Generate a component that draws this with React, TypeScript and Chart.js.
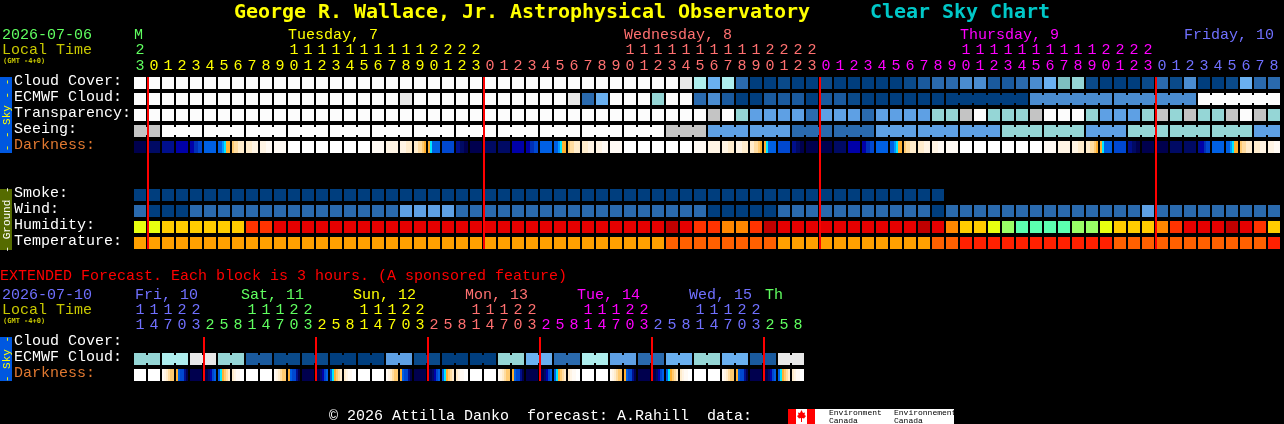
import React, { useEffect, useRef } from "react";
import { Chart, registerables } from "chart.js";

Chart.register(...registerables);

// ---------- data: levels ----------
const cloudCover = [
  12,12,12,12,12,12,12,12,12,12,12,12,12,12,12,12,12,12,12,12,12,12,12,12,12,12,12,12,12,12,12,12,12,12,12,12,12,12,12,
  10,9,6,9,3,0,0,1,0,0,1,0,0,0,0,0,1,2,3,3,4,4,2,2,3,4,6,7,8,1,0,0,0,1,3,1,4,0,0,1,6,3,3,
];
const ecmwfCloud = [
  12,12,12,12,12,12,12,12,12,12,12,12,12,12,12,12,12,12,12,10,12,12,12,12,12,12,12,12,12,12,12,10,
  3,6,12,12,12,8,12,12,3,4,2,0,0,2,2,2,0,2,2,1,0,0,0,0,0,0,0,0,0,0,0,0,4,4,4,4,4,4,4,4,4,4,4,4,12,12,12,12,12,12,
];
const ecmwfBlockStarts = [
  0,1,2,3,4,5,6,7,8,9,10,11,12,13,14,15,16,17,18,19,20,21,22,23,24,25,26,27,28,29,30,31,32,33,34,35,36,37,38,39,40,41,
  42,43,44,45,46,47,48,49,50,51,52,53,54,55,56,57,58,64,70,76,
];
const transparency = [
  12,12,12,12,12,12,12,12,12,12,12,12,12,12,12,12,12,12,12,12,12,12,12,12,12,12,12,12,12,12,12,12,12,12,12,12,12,12,12,12,12,
  11,12,8,5,5,5,5,3,5,5,5,3,5,5,5,5,8,8,11,12,8,8,8,11,12,12,12,8,5,5,5,8,11,8,11,8,8,11,12,11,8,
];
const seeing = [
  11,11,12,12,12,12,12,12,12,12,12,12,12,12,12,12,12,12,12,12,12,12,12,12,12,12,12,12,12,12,12,12,12,12,12,12,12,12,
  11,11,11,5,5,5,5,5,5,3,3,3,3,3,3,5,5,5,5,5,5,5,5,5,8,8,8,8,8,8,5,5,5,8,8,8,8,8,8,8,8,8,5,5,
];
const seeingBlockStarts = [0,2,5,8,11,14,17,20,23,26,29,32,35,38,41,44,47,50,53,56,59,62,65,68,71,74,77,80];
const darkness = [
  "000000","111111","222222","333333","334455","666666","667899","abbccc","cccddd","dddeee","eeeeee","ffffff",
  "ffffff","ffffff","ffffff","ffffff","ffffff","eeeeee","dddddd","dddccc","ccbba9","986666","555555","221100",
  "000000","111111","111111","333333","334455","666666","667899","abbccc","cccddd","dddeee","eeeeee","ffffff",
  "ffffff","ffffff","ffffff","ffffff","eeeeee","dddddd","dddccc","dddccc","ccbba9","986666","555555","221100",
  "000000","000000","111111","333333","334455","666666","667899","abbccc","cccddd","dddeee","eeeeee","ffffff",
  "ffffff","ffffff","ffffff","ffffff","ffffff","eeeeee","dddddd","dddccc","ccbba9","986666","555555","221100",
  "000000","000000","111111","111111","233455","666666","667899","abbccc","cccddd","dddeee",
];
const smoke = [
  0,0,0,0,0,0,0,0,0,0,0,0,0,0,0,0,0,0,0,0,0,0,0,0,0,0,0,0,0,0,0,0,0,0,0,0,0,0,0,0,0,0,0,0,0,0,0,0,0,0,0,0,0,0,0,0,0,0,
];
const wind = [
  3,0,0,0,3,3,3,3,3,3,3,3,3,3,3,3,3,3,3,5,5,5,5,3,3,3,3,3,3,3,3,3,3,3,3,3,3,3,3,3,3,
  0,0,0,0,0,3,3,3,3,3,3,3,3,3,3,3,0,3,3,3,3,3,3,3,3,3,3,3,3,3,3,5,3,3,3,3,3,3,3,3,3,
];
const humidity = [
  2,2,3,3,3,3,3,3,5,5,6,6,6,6,6,6,6,6,6,6,6,6,6,6,6,6,6,6,6,6,6,6,6,6,6,6,6,6,7,6,5,
  5,4,4,5,7,6,6,6,6,6,6,6,6,6,6,7,6,4,3,3,2,1,0,0,0,0,1,1,2,3,3,3,4,5,6,6,6,7,6,5,3,
];
const temperature = [
  0,0,0,0,0,0,0,0,0,0,0,0,0,0,0,0,0,0,0,0,0,0,0,0,0,0,0,0,0,0,0,0,0,0,0,0,0,0,1,1,1,
  1,1,1,1,1,0,0,0,0,0,0,0,0,0,0,0,1,1,2,2,2,2,2,2,2,2,2,2,2,1,1,1,1,1,1,1,1,1,1,1,2,
];
const extEcmwf = [
  8,8,9,9,10,10,8,8,2,2,1,1,1,1,0,0,0,0,5,5,1,1,0,0,0,0,8,8,6,6,3,3,9,9,5,5,3,3,6,6,8,8,6,6,2,2,10,10,
];
const extBlockStarts = [0,2,4,6,8,10,12,14,16,18,20,22,24,26,28,30,32,34,36,38,40,42,44,46];
const extDarkness = [
  "ffffff","ffffff","edcbaa","965520","000000","001356","689abc","cdeeff",
  "ffffff","ffffff","edcbaa","965520","000000","001356","689abc","cdeeff",
  "ffffff","ffffff","edcbaa","965520","000000","001356","689abc","cdeeff",
  "ffffff","ffffff","edcbaa","965520","000000","001356","689abc","cdeeff",
  "ffffff","ffffff","edcbaa","965520","000000","001356","689abc","cdeeff",
  "ffffff","ffffff","edcbaa","965520","000000","001356","689abc","cdeeff",
];
const topHours = [
  23,0,1,2,3,4,5,6,7,8,9,10,11,12,13,14,15,16,17,18,19,20,21,22,23,
  0,1,2,3,4,5,6,7,8,9,10,11,12,13,14,15,16,17,18,19,20,21,22,23,
  0,1,2,3,4,5,6,7,8,9,10,11,12,13,14,15,16,17,18,19,20,21,22,23,
  0,1,2,3,4,5,6,7,8,
];
const topHourDay = [
  0,1,1,1,1,1,1,1,1,1,1,1,1,1,1,1,1,1,1,1,1,1,1,1,1,
  2,2,2,2,2,2,2,2,2,2,2,2,2,2,2,2,2,2,2,2,2,2,2,2,
  3,3,3,3,3,3,3,3,3,3,3,3,3,3,3,3,3,3,3,3,3,3,3,3,
  4,4,4,4,4,4,4,4,4,
];
const extHours = [
  11,14,17,20,23,2,5,8,11,14,17,20,23,2,5,8,11,14,17,20,23,2,5,8,
  11,14,17,20,23,2,5,8,11,14,17,20,23,2,5,8,11,14,17,20,23,2,5,8,
];
const extHourDay = [
  4,4,4,4,4,0,0,0,0,0,0,0,0,1,1,1,1,1,1,1,1,2,2,2,2,2,2,2,2,3,3,3,3,3,3,3,3,4,4,4,4,4,4,4,4,0,0,0,
];
const topMidnights = [1, 25, 49, 73];
const extMidnights = [5, 13, 21, 29, 37, 45];
const topDayTitles = [
  { text: "M", col: 0, day: 0 },
  { text: "Tuesday, 7", col: 11, day: 1 },
  { text: "Wednesday, 8", col: 35, day: 2 },
  { text: "Thursday, 9", col: 59, day: 3 },
  { text: "Friday, 10", col: 75, day: 4 },
];
const extDayTitles = [
  { text: "Fri, 10", px: 135, day: 4 },
  { text: "Sat, 11", px: 241, day: 0 },
  { text: "Sun, 12", px: 353, day: 1 },
  { text: "Mon, 13", px: 465, day: 2 },
  { text: "Tue, 14", px: 577, day: 3 },
  { text: "Wed, 15", px: 689, day: 4 },
  { text: "Th", px: 765, day: 0 },
];
const topRowLabels = ["Cloud Cover:", "ECMWF Cloud:", "Transparency:", "Seeing:", "Darkness:"];
const groundRowLabels = ["Smoke:", "Wind:", "Humidity:", "Temperature:"];
const extRowLabels = ["Cloud Cover:", "ECMWF Cloud:", "Darkness:"];

// ---------- styles and layout ----------
const skyPalette = ["#003e7e","#0a4a8a","#1a5a9e","#2a6aae","#4a8cd0","#5ea0e4","#6ab0f0","#7ebfc0","#95d6d6","#aeeeee","#e8e8e8","#c4c4c4","#fcfcfc"];
const humidityPalette = ["#5cffb0","#99ff66","#e8ff10","#ffcc00","#ff8800","#ff3300","#e60000","#c00000"];
const temperaturePalette = ["#ffa000","#ff6000","#ff2000"];
const darknessPalette: Record<string, string> = {
  "0":"#00004e","1":"#000a64","2":"#000f8c","3":"#0000a8","4":"#0030b8","5":"#0048d0","6":"#0060e4","7":"#0098ff",
  "8":"#00e8ff","9":"#ffb030",a:"#ffca70",b:"#ffdca0",c:"#ffeccc",d:"#fff4e4",e:"#fffaf4",f:"#ffffff",
};
const dayColors = ["#60ff60", "#ffff00", "#ff7070", "#ff00ff", "#7070ff"];

const COL_PX = 14, ROW_PX = 16, FIRST_COL_PX = 140, FIRST_ROW_PX = 83;
const W = 1284, H = 424;
const px = (n: number) => n / ROW_PX;
const ROWS_TOP = 0, ROWS_GROUND = 7, ROWS_EXT = 16.25;

type Cell = { x: number; y: [number, number] };
const barBase = { inflateAmount: 0, stack: "grid" };
function cellRow(values: number[], row: number, palette: string[]) {
  return {
    ...barBase,
    data: values.map((_, i): Cell => ({ x: i, y: [row - px(6), row + px(6)] })),
    backgroundColor: values.map((v) => palette[v]),
    barThickness: 12,
  };
}
function neckRow(values: number[], starts: number[], row: number, palette: string[]) {
  const cols = values.map((_, i) => i).filter((i) => i + 1 < values.length && !starts.includes(i + 1));
  return {
    ...barBase,
    data: cols.map((i): Cell => ({ x: i + 0.5, y: [row - px(4), row + px(4)] })),
    backgroundColor: cols.map((i) => palette[values[i]]),
    barThickness: 2,
  };
}
function gradientRow(cells: string[], row: number) {
  const data: Cell[] = [];
  const colors: string[] = [];
  cells.forEach((samples, i) => {
    samples.split("").forEach((level, k) => {
      data.push({ x: i + (2 * k - 5) / COL_PX, y: [row - px(6), row + px(6)] });
      colors.push(darknessPalette[level]);
    });
  });
  return { ...barBase, data, backgroundColor: colors, barThickness: 2 };
}
// Chart.js paints the first dataset last, so these two come first in the list and sit on top of the cells.
function midnightRow(cols: number[], rowFrom: number, rowTo: number) {
  return {
    ...barBase,
    data: cols.map((c): Cell => ({ x: c - 6 / COL_PX, y: [rowFrom, rowTo] })),
    backgroundColor: "#ff0000",
    barThickness: 2,
  };
}

const mono = '"Liberation Mono", monospace';
const titleFont = '"DejaVu Sans Mono", monospace';

const textPlugin = {
  id: "cscText",
  afterDatasetsDraw(chart: any) {
    const ctx: CanvasRenderingContext2D = chart.ctx;
    const xs = chart.scales.x;
    const ys = chart.scales.y;
    const text = (s: string, x: number, y: number, color: string, font = `15px ${mono}`, align: CanvasTextAlign = "left") => {
      ctx.font = font;
      ctx.fillStyle = color;
      ctx.textAlign = align;
      ctx.textBaseline = "alphabetic";
      ctx.fillText(s, x, y);
    };
    const labelBaseline = (row: number) => Math.round(ys.getPixelForValue(row)) + 2;
    const sideBar = (top: number, bottom: number, color: string, label: string, labelColor: string) => {
      ctx.fillStyle = color;
      ctx.fillRect(0, top, 12, bottom - top);
      ctx.save();
      ctx.translate(10, (top + bottom) / 2);
      ctx.rotate(-Math.PI / 2);
      text(label, 0, 0, labelColor, `11px ${mono}`, "center");
      ctx.restore();
    };

    ctx.save();
    // title
    (ctx as any).letterSpacing = "-0.04px";
    text("George R. Wallace, Jr. Astrophysical Observatory", 234, 18, "#ffff00", `bold 20px ${titleFont}`);
    text("Clear Sky Chart", 870, 18, "#00c8c8", `bold 20px ${titleFont}`);
    (ctx as any).letterSpacing = "0px";

    // main header
    text("2026-07-06", 2, 39, "#60ff60");
    text("Local Time", 2, 54, "#c8c800");
    text("(GMT -4+0)", 3, 63, "#c8c800", `bold 7px ${titleFont}`);
    topDayTitles.forEach((d) => text(d.text, xs.getPixelForValue(d.col) - 6, 39, dayColors[d.day]));
    topHours.forEach((h, i) => {
      const x = xs.getPixelForValue(i);
      const color = dayColors[topHourDay[i]];
      if (h >= 10) text(String(Math.floor(h / 10)), x, 54, color, undefined, "center");
      text(String(h % 10), x, 70, color, undefined, "center");
    });
    topRowLabels.forEach((l, i) => text(l, 14, labelBaseline(ROWS_TOP + i), l === "Darkness:" ? "#e07830" : "#ffffff"));
    groundRowLabels.forEach((l, i) => text(l, 14, labelBaseline(ROWS_GROUND + i), "#ffffff"));
    sideBar(77, 153, "#0058e0", "- - Sky - -", "#ffff00");
    sideBar(189, 250, "#556b00", "- Ground -", "#ffffff");

    // extended forecast
    text("EXTENDED Forecast. Each block is 3 hours. (A sponsored feature)", 0, 280, "#ff0000");
    text("2026-07-10", 2, 299, "#7070ff");
    text("Local Time", 2, 314, "#c8c800");
    text("(GMT -4+0)", 3, 323, "#c8c800", `bold 7px ${titleFont}`);
    extDayTitles.forEach((d) => text(d.text, d.px, 299, dayColors[d.day]));
    extHours.forEach((h, i) => {
      const x = xs.getPixelForValue(i);
      const color = dayColors[extHourDay[i]];
      if (h >= 10) text(String(Math.floor(h / 10)), x, 314, color, undefined, "center");
      text(String(h % 10), x, 329, color, undefined, "center");
    });
    extRowLabels.forEach((l, i) => text(l, 14, labelBaseline(ROWS_EXT + i), l === "Darkness:" ? "#e07830" : "#ffffff"));
    sideBar(337, 381, "#0058e0", "- Sky -", "#ffff00");

    // footer and data credit
    text("\u00a9 2026 Attilla Danko  forecast: A.Rahill  data:", 329, 420, "#ffffff");
    ctx.fillStyle = "#ffffff";
    ctx.fillRect(788, 409, 166, 15);
    ctx.fillStyle = "#ff0000";
    ctx.fillRect(788, 409, 8, 15);
    ctx.fillRect(807, 409, 8, 15);
    ctx.beginPath();
    const leaf = [[801.5,410],[803,413],[805,412.5],[804.5,415],[806,416],[804,418.5],[802,418],[802,422],[801,422],[801,418],[799,418.5],[797,416],[798.5,415],[798,412.5],[800,413]];
    leaf.forEach(([x, y], i) => (i ? ctx.lineTo(x, y) : ctx.moveTo(x, y)));
    ctx.closePath();
    ctx.fill();
    const small = `8px ${mono}`;
    text("Environment", 829, 415, "#000000", small);
    text("Canada", 829, 423, "#000000", small);
    text("Environnement", 894, 415, "#000000", small);
    text("Canada", 894, 423, "#000000", small);
    ctx.restore();
  },
};

export default function App() {
  const ref = useRef<HTMLCanvasElement>(null);
  useEffect(() => {
    document.documentElement.style.background = "#000";
    document.body.style.margin = "0";
    document.body.style.background = "#000";
    const chart = new Chart(ref.current as HTMLCanvasElement, {
      type: "bar",
      data: {
        datasets: [
          midnightRow(topMidnights, ROWS_TOP - px(6), ROWS_GROUND + 3 + px(6)),
          midnightRow(extMidnights, ROWS_EXT - px(6), ROWS_EXT + 2 + px(6)),
          cellRow(cloudCover, ROWS_TOP, skyPalette),
          cellRow(ecmwfCloud, ROWS_TOP + 1, skyPalette),
          neckRow(ecmwfCloud, ecmwfBlockStarts, ROWS_TOP + 1, skyPalette),
          cellRow(transparency, ROWS_TOP + 2, skyPalette),
          cellRow(seeing, ROWS_TOP + 3, skyPalette),
          neckRow(seeing, seeingBlockStarts, ROWS_TOP + 3, skyPalette),
          gradientRow(darkness, ROWS_TOP + 4),
          cellRow(smoke, ROWS_GROUND, skyPalette),
          cellRow(wind, ROWS_GROUND + 1, skyPalette),
          cellRow(humidity, ROWS_GROUND + 2, humidityPalette),
          cellRow(temperature, ROWS_GROUND + 3, temperaturePalette),
          cellRow(extEcmwf, ROWS_EXT + 1, skyPalette),
          neckRow(extEcmwf, extBlockStarts, ROWS_EXT + 1, skyPalette),
          gradientRow(extDarkness, ROWS_EXT + 2),
        ] as any,
      },
      options: {
        responsive: false,
        animation: false,
        devicePixelRatio: 1,
        layout: { padding: 0 },
        events: [],
        plugins: { legend: { display: false }, tooltip: { enabled: false }, title: { display: false } },
        scales: {
          x: { type: "linear", display: false, stacked: true, min: -FIRST_COL_PX / COL_PX, max: (W - FIRST_COL_PX) / COL_PX, offset: false },
          y: { type: "linear", display: false, stacked: false, reverse: true, min: -FIRST_ROW_PX / ROW_PX, max: (H - FIRST_ROW_PX) / ROW_PX },
        },
      },
      plugins: [textPlugin],
    });
    return () => chart.destroy();
  }, []);
  return <canvas ref={ref} width={W} height={H} style={{ display: "block", width: W, height: H, background: "#000" }} />;
}
